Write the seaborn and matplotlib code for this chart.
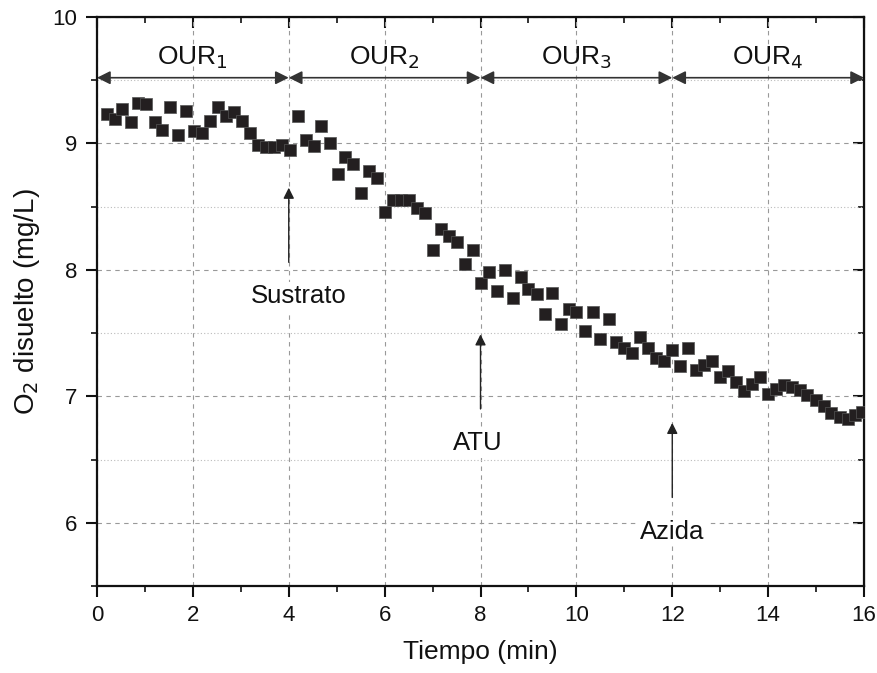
import matplotlib
matplotlib.use("Agg")
import matplotlib.pyplot as plt
from matplotlib.ticker import MultipleLocator
import seaborn as sns
import pandas as pd

# datos (tiempo en min, O2 en mg/L)
tiempo = [0.20, 0.37, 0.53, 0.70, 0.86, 1.03, 1.20, 1.36, 1.53, 1.69,
          1.86, 2.02, 2.19, 2.36, 2.52, 2.69, 2.85, 3.02, 3.19, 3.35,
          3.52, 3.69, 3.85, 4.02, 4.19, 4.35, 4.52, 4.68, 4.85, 5.02,
          5.18, 5.35, 5.51, 5.68, 5.85, 6.01, 6.18, 6.35, 6.51, 6.68,
          6.84, 7.01, 7.18, 7.34, 7.51, 7.68, 7.84, 8.01, 8.17, 8.34,
          8.51, 8.67, 8.84, 9.00, 9.17, 9.34, 9.50, 9.67, 9.84, 10.00,
          10.17, 10.34, 10.50, 10.67, 10.83, 11.00, 11.17, 11.33, 11.50, 11.67,
          11.83, 12.00, 12.16, 12.33, 12.50, 12.66, 12.83, 13.00, 13.16, 13.33,
          13.49, 13.66, 13.83, 13.99, 14.16, 14.33, 14.49, 14.66, 14.82, 14.99,
          15.16, 15.32, 15.49, 15.66, 15.82, 15.95]
oxigeno = [9.23, 9.19, 9.27, 9.17, 9.32, 9.31, 9.17, 9.11, 9.29, 9.07,
           9.26, 9.10, 9.08, 9.18, 9.29, 9.22, 9.25, 9.18, 9.08, 8.99,
           8.97, 8.97, 8.99, 8.95, 9.22, 9.03, 8.98, 9.14, 9.00, 8.76,
           8.89, 8.84, 8.61, 8.78, 8.73, 8.46, 8.55, 8.55, 8.55, 8.49,
           8.45, 8.16, 8.32, 8.27, 8.22, 8.05, 8.16, 7.90, 7.98, 7.83,
           8.00, 7.78, 7.94, 7.85, 7.81, 7.65, 7.82, 7.57, 7.69, 7.67,
           7.52, 7.67, 7.45, 7.61, 7.43, 7.38, 7.34, 7.47, 7.38, 7.30,
           7.28, 7.37, 7.24, 7.38, 7.21, 7.25, 7.28, 7.15, 7.20, 7.11,
           7.04, 7.10, 7.15, 7.02, 7.06, 7.09, 7.07, 7.05, 7.01, 6.97,
           6.92, 6.87, 6.84, 6.82, 6.85, 6.88]

# periodos OUR y eventos (adiciones)
periodos = [(0, 4, "OUR$_1$"), (4, 8, "OUR$_2$"), (8, 12, "OUR$_3$"), (12, 16, "OUR$_4$")]
eventos = ["Sustrato", "ATU", "Azida"]
t_eventos = [4, 8, 12]

df = pd.DataFrame({"t": tiempo, "o2": oxigeno})

sns.set_style("ticks")
plt.rcParams["font.family"] = ["Liberation Sans", "DejaVu Sans"]
plt.rcParams["text.color"] = "#111111"
plt.rcParams["axes.labelcolor"] = "#111111"
plt.rcParams["xtick.color"] = "#111111"
plt.rcParams["ytick.color"] = "#111111"

fig = plt.figure(figsize=(8.77, 6.73), dpi=100)
ax = fig.add_axes([0.1106, 0.1293, 0.8746, 0.8454])

sns.scatterplot(data=df, x="t", y="o2", marker="s", s=85, color="#231f20",
                edgecolor="#555555", linewidth=0.5, ax=ax, zorder=3)

ax.set_xlim(0, 16)
ax.set_ylim(5.5, 10)
ax.xaxis.set_major_locator(MultipleLocator(2))
ax.xaxis.set_minor_locator(MultipleLocator(1))
ax.yaxis.set_major_locator(MultipleLocator(1))
ax.yaxis.set_minor_locator(MultipleLocator(0.5))

ax.grid(which="major", axis="both", color="#999999", linestyle=(0, (4, 4)), linewidth=0.8)
ax.grid(which="minor", axis="y", color="#bbbbbb", linestyle=(0, (1, 2)), linewidth=0.8)
ax.set_axisbelow(True)

for sp in ax.spines.values():
    sp.set_linewidth(1.6)
    sp.set_visible(True)
    sp.set_color("#111111")

ax.tick_params(which="major", direction="out", length=8, width=1.5, labelsize=16, pad=6)
ax.tick_params(which="minor", direction="out", length=4, width=1.2)

top = ax.secondary_xaxis("top")
top.xaxis.set_major_locator(MultipleLocator(2))
top.xaxis.set_minor_locator(MultipleLocator(1))
top.tick_params(which="major", direction="in", length=8, width=1.5, labeltop=False)
top.tick_params(which="minor", direction="in", length=4, width=1.2)
right = ax.secondary_yaxis("right")
right.yaxis.set_major_locator(MultipleLocator(1))
right.yaxis.set_minor_locator(MultipleLocator(0.5))
right.tick_params(which="major", direction="in", length=8, width=1.5, labelright=False)
right.tick_params(which="minor", direction="in", length=4, width=1.2)

ax.set_xlabel("Tiempo (min)", fontsize=19, labelpad=10)
ax.set_ylabel("O$_2$ disuelto (mg/L)", fontsize=20, labelpad=8)

# flechas de los periodos OUR
for x0, x1, nombre in periodos:
    ax.annotate("", xy=(x1, 9.52), xytext=(x0, 9.52),
                arrowprops=dict(arrowstyle="<|-|>", color="#333333", lw=1.2,
                                mutation_scale=20, shrinkA=0, shrinkB=0))
    ax.text((x0 + x1) / 2, 9.68, nombre, fontsize=19, ha="center", va="center")

# flechas de las adiciones
for i, (nombre, te) in enumerate(zip(eventos, t_eventos)):
    base = [8.06, 6.90, 6.20][i]
    ax.annotate("", xy=(te, base + 0.59), xytext=(te, base),
                arrowprops=dict(arrowstyle="-|>", color="#222222", lw=1.0,
                                mutation_scale=16, shrinkA=0, shrinkB=0))
    ax.text(te + [0.2, -0.05, 0.0][i], base - 0.27, nombre, fontsize=18.5,
            ha="center", va="center",
            bbox=dict(facecolor="white", edgecolor="none", pad=2))

fig.savefig("out.png", dpi=100)
